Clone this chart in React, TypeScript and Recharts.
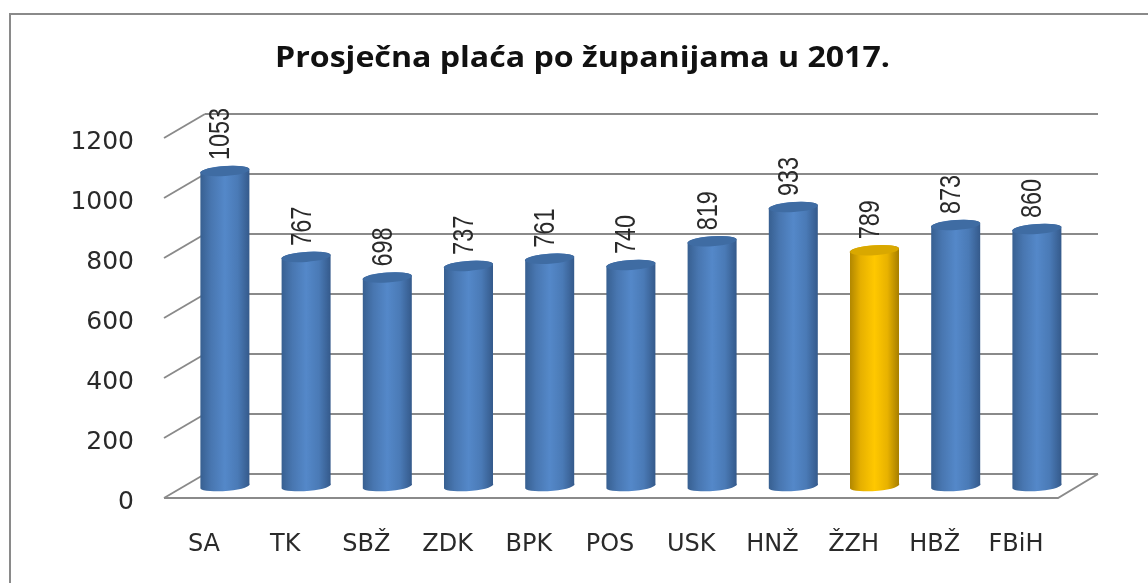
import React from "react";
import { BarChart, Bar, XAxis, YAxis, CartesianGrid, LabelList } from "recharts";

const categories = ["SA", "TK", "SBŽ", "ZDK", "BPK", "POS", "USK", "HNŽ", "ŽZH", "HBŽ", "FBiH"];
const values = [1053, 767, 698, 737, 761, 740, 819, 933, 789, 873, 860];
const yTicks = [0, 200, 400, 600, 800, 1000, 1200];
const highlighted = "ŽZH";
const titleText = "Prosječna plaća po županijama u 2017.";

const rows = categories.map((name, i) => ({ name, value: values[i] }));

const BACK_OFFSET = 13;
const FRONT_OFFSET = 11;
const BACK_LEFT = 205;
const FRONT_LEFT = 164;
const BACK_RIGHT = 1098;
const FRONT_RIGHT = 1058;
const GRID = "#8a8a8a";
const INK = "#2a2a2a";

const GridLine = (props: any) => {
  const y = props.y1;
  const isFloor = Math.abs(y - 487) < 1;
  return (
    <g>
      <line x1={FRONT_LEFT} y1={y + FRONT_OFFSET} x2={BACK_LEFT} y2={y - BACK_OFFSET} stroke={GRID} strokeWidth={1.9} />
      <line x1={BACK_LEFT} y1={y - BACK_OFFSET} x2={BACK_RIGHT} y2={y - BACK_OFFSET} stroke={GRID} strokeWidth={1.9} />
      {isFloor && (
        <path
          d={`M${FRONT_LEFT} ${y + FRONT_OFFSET} H${FRONT_RIGHT} L${BACK_RIGHT} ${y - BACK_OFFSET}`}
          fill="none"
          stroke={GRID}
          strokeWidth={1.9}
        />
      )}
    </g>
  );
};

const Cylinder = (props: any) => {
  const { x, y, width, height, payload } = props;
  const hi = payload.name === highlighted;
  const base = y + height - 1;
  const rx = width / 2;
  const cx = x + rx;
  const tilt = 2.4;
  const body =
    `M${x} ${y + tilt} L${x} ${base + tilt} ` +
    `A${rx} 5 -4 0 0 ${x + width} ${base - tilt} ` +
    `L${x + width} ${y - tilt} ` +
    `A${rx} 5 -4 0 0 ${x} ${y + tilt} Z`;
  return (
    <g>
      <path d={body} fill={`url(#${hi ? "cylGold" : "cylBlue"})`} />
      <ellipse
        cx={cx}
        cy={y}
        rx={rx}
        ry={5}
        transform={`rotate(-4 ${cx} ${y})`}
        fill={hi ? "#d9a800" : "#3f6ca3"}
      />
    </g>
  );
};

const ValueLabel = (props: any) => {
  const { x, y, width, value } = props;
  const cx = x + width / 2;
  return (
    <text
      transform={`translate(${cx + 4.5} ${y - 11}) rotate(-90) scale(0.81 1)`}
      fontFamily="Liberation Sans"
      fontSize={29}
      fill={INK}
    >
      {value}
    </text>
  );
};

const YTick = (props: any) => (
  <text x={134} y={props.y + 22} textAnchor="end" fontFamily="DejaVu Sans" fontSize={25} fill={INK}>
    {props.payload.value}
  </text>
);

const XTick = (props: any) => (
  <text x={props.x - 21} y={551} textAnchor="middle" fontFamily="DejaVu Sans" fontSize={24} fill={INK}>
    {props.payload.value}
  </text>
);

export default function App() {
  return (
    <div
      style={{
        position: "fixed",
        left: 0,
        top: 0,
        width: 1148,
        height: 583,
        overflow: "hidden",
        background: "#ffffff",
      }}
    >
      <div style={{ position: "absolute", inset: 0, filter: "blur(0.6px)" }}>
        <div
          style={{
            position: "absolute",
            left: 9,
            top: 13,
            width: 1300,
            height: 800,
            border: "2px solid #8a8a8a",
            boxSizing: "border-box",
          }}
        />
        <div style={{ position: "absolute", left: 0, top: 0 }}>
          <BarChart
            width={1148}
            height={583}
            data={rows}
            margin={{ top: 127, right: 70.4, bottom: 0, left: 84.4 }}
            barSize={49}
          >
            <defs>
              <linearGradient id="cylBlue" x1="0" y1="0" x2="1" y2="0">
                <stop offset="0" stopColor="#375f90" />
                <stop offset="0.22" stopColor="#4876b0" />
                <stop offset="0.5" stopColor="#5488c9" />
                <stop offset="0.76" stopColor="#4a7ab6" />
                <stop offset="1" stopColor="#34598a" />
              </linearGradient>
              <linearGradient id="cylGold" x1="0" y1="0" x2="1" y2="0">
                <stop offset="0" stopColor="#b08600" />
                <stop offset="0.22" stopColor="#e6b000" />
                <stop offset="0.5" stopColor="#ffc800" />
                <stop offset="0.76" stopColor="#e8b200" />
                <stop offset="1" stopColor="#a57d00" />
              </linearGradient>
            </defs>
            <text
              x={275}
              y={67}
              textLength={615}
              lengthAdjust="spacingAndGlyphs"
              fontFamily="Open Sans"
              fontWeight="bold"
              fontSize={28}
              fill="#111111"
            >
              {titleText}
            </text>
            <CartesianGrid vertical={false} horizontal={GridLine as any} />
            <XAxis
              dataKey="name"
              height={96}
              axisLine={false}
              tickLine={false}
              tickSize={0}
              interval={0}
              tick={XTick as any}
            />
            <YAxis
              width={100}
              domain={[0, 1200]}
              ticks={yTicks}
              axisLine={false}
              tickLine={false}
              tickSize={0}
              tick={YTick as any}
            />
            <Bar dataKey="value" isAnimationActive={false} shape={Cylinder as any}>
              <LabelList dataKey="value" content={ValueLabel as any} />
            </Bar>
          </BarChart>
        </div>
      </div>
    </div>
  );
}
